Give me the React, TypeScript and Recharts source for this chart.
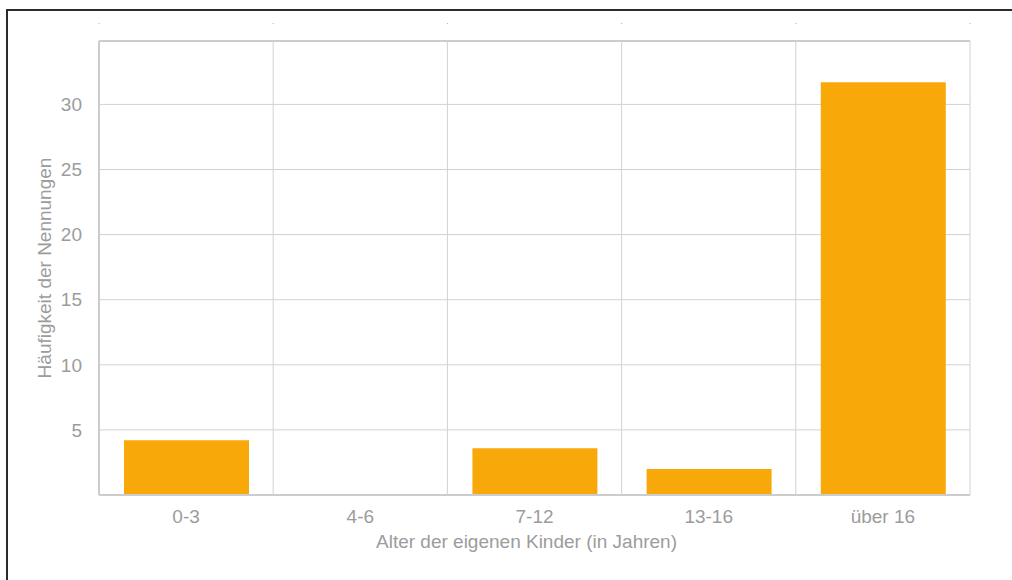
import React from 'react';
import { BarChart, Bar, XAxis, YAxis, CartesianGrid } from 'recharts';

// Alter der Kinder vs. Häufigkeit der Nennungen
const categories = ['0-3', '4-6', '7-12', '13-16', 'über 16'];
const counts = [4.2, 0, 3.6, 2.0, 31.7];
const yTicks = [5, 10, 15, 20, 25, 30];
const bandEdges = [0, 1, 2, 3, 4, 5];

const data = categories.map((name, i) => ({ name, value: counts[i], slot: i + 0.5 }));

const FONT = '"Liberation Sans", Arial, sans-serif';
const TEXT = '#9c9c9c';
const FRAME = '#cccccc';
const FONT_SIZE = 19;

// vertical grid lines sit on the category boundaries, not the category centres
const boundaryLines = ({ offset }: any) =>
  bandEdges.map((e) => offset.left + (offset.width * e) / categories.length);

const EmptyTick = () => <g />;

export default function App() {
  return (
    <div style={{ position: 'fixed', left: 0, top: 0, width: 1012, height: 580, background: '#fff', overflow: 'hidden' }}>
      <div
        style={{
          position: 'absolute',
          left: 6,
          top: 9,
          width: 1006,
          height: 571,
          boxSizing: 'border-box',
          borderTop: '2px solid #2b2b2b',
          borderLeft: '2px solid #2b2b2b',
        }}
      />
      <div style={{ position: 'absolute', left: 0, top: 0 }}>
        <BarChart
          width={1012}
          height={580}
          data={data}
          margin={{ top: 23, right: 42, bottom: 25, left: 0 }}
          style={{ fontFamily: FONT }}
        >
          <CartesianGrid stroke="#d2d2d2" strokeWidth={1} verticalCoordinatesGenerator={boundaryLines} />
          <XAxis
            xAxisId="edges"
            dataKey="slot"
            orientation="top"
            type="number"
            domain={[0, 5]}
            allowDataOverflow
            ticks={bandEdges}
            interval={0}
            height={18}
            tick={<EmptyTick />}
            tickSize={18}
            tickLine={{ stroke: '#b0b0b0', strokeDasharray: '1 17' }}
            axisLine={{ stroke: FRAME, strokeWidth: 2 }}
          />
          <XAxis
            dataKey="name"
            height={60}
            tickLine={false}
            tickSize={0}
            tickMargin={15}
            axisLine={{ stroke: FRAME, strokeWidth: 2 }}
            tick={{ fill: TEXT, fontSize: FONT_SIZE, fontFamily: FONT }}
            label={{
              value: 'Alter der eigenen Kinder (in Jahren)',
              position: 'insideBottom',
              offset: 7,
              dx: -8,
              fill: TEXT,
              fontSize: FONT_SIZE,
              fontFamily: FONT,
            }}
          />
          <YAxis
            width={99}
            domain={[0, (dataMax: number) => dataMax * 1.1]}
            ticks={yTicks}
            tickLine={false}
            tickSize={0}
            tickMargin={17}
            axisLine={{ stroke: FRAME, strokeWidth: 2 }}
            tick={{ fill: TEXT, fontSize: FONT_SIZE, fontFamily: FONT }}
            label={{
              value: 'Häufigkeit der Nennungen',
              angle: -90,
              position: 'insideLeft',
              offset: 44,
              fill: TEXT,
              fontSize: FONT_SIZE,
              fontFamily: FONT,
              style: { textAnchor: 'middle' },
            }}
          />
          <YAxis
            yAxisId="frame"
            orientation="right"
            width={0}
            domain={[0, 1]}
            tick={false}
            tickLine={false}
            axisLine={{ stroke: FRAME, strokeWidth: 2 }}
          />
          <Bar dataKey="value" fill="#F9A80A" barSize={125} isAnimationActive={false} />
        </BarChart>
      </div>
    </div>
  );
}
